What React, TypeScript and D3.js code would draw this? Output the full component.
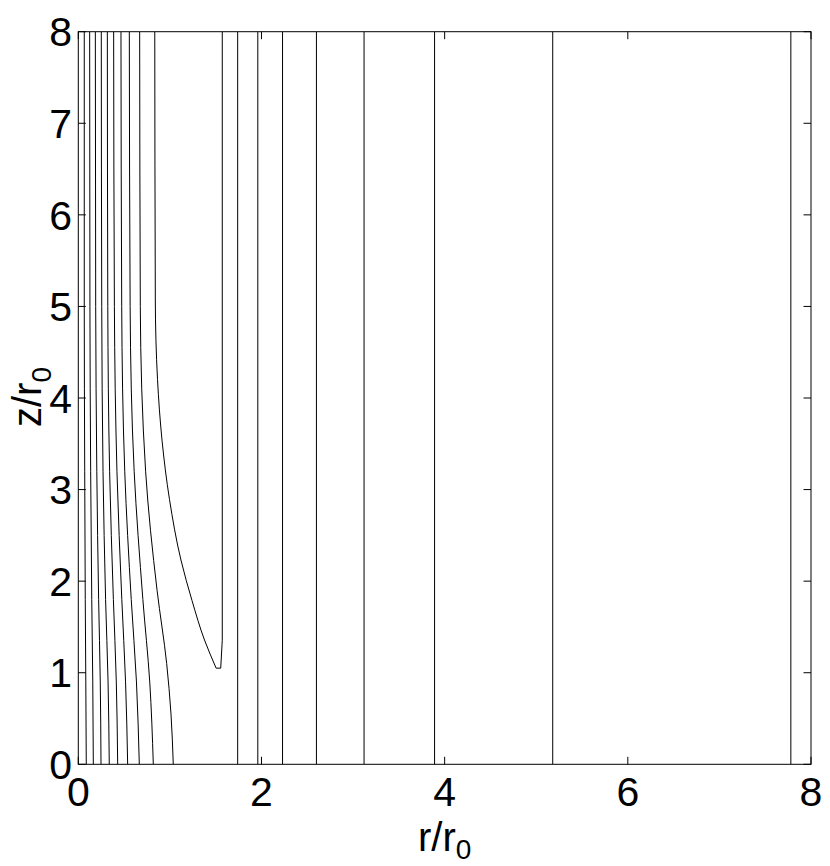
import React, { useEffect } from "react";
import * as d3 from "d3";

// ---- data (r/r0, z/r0) ----
const xTicks = [0, 2, 4, 6, 8];
const yTicks = [0, 1, 2, 3, 4, 5, 6, 7, 8];

const contour1: [number, number][] = [[0.065, 8], [0.065, 5], [0.07, 3.2], [0.076, 1.8], [0.082, 0.9], [0.087, 0]];
const contour2: [number, number][] = [[0.124, 8], [0.127, 5], [0.135, 3.2], [0.147, 1.8], [0.158, 0.9], [0.164, 0]];
const contour3: [number, number][] = [[0.186, 8], [0.19, 5], [0.202, 3.2], [0.222, 1.8], [0.24, 0.9], [0.248, 0]];
const contour4: [number, number][] = [[0.251, 8], [0.256, 5], [0.27, 3.2], [0.298, 1.8], [0.325, 0.9], [0.338, 0]];
const contour5: [number, number][] = [[0.317, 8], [0.322, 5], [0.342, 3.2], [0.383, 1.8], [0.415, 0.9], [0.43, 0]];
const contour6: [number, number][] = [[0.386, 8], [0.394, 5], [0.422, 3.2], [0.475, 1.8], [0.516, 0.9], [0.539, 0]];
const contour7: [number, number][] = [[0.466, 8], [0.474, 5], [0.507, 3.2], [0.578, 1.8], [0.635, 0.9], [0.666, 0]];
const contour8: [number, number][] = [[0.557, 8], [0.566, 5], [0.61, 3.2], [0.705, 1.8], [0.78, 0.9], [0.819, 0]];
const contour9: [number, number][] = [[0.67, 8], [0.677, 5], [0.735, 3.2], [0.86, 1.9], [0.965, 1.1], [1.012, 0.55], [1.037, 0]];

const hookCurve: [number, number][] = [
  [0.835, 8], [0.841, 5.07], [0.865, 4.2], [0.914, 3.54], [0.996, 2.89],
  [1.121, 2.23], [1.241, 1.79], [1.378, 1.357], [1.505, 1.05],
];
const hookRight: [number, number][] = [[1.505, 1.05], [1.555, 1.05], [1.572, 1.355], [1.572, 8]];

const straightLevels = [1.74, 1.96, 2.23, 2.6, 3.12, 3.89, 5.18, 7.78];

const curvedContours = [contour1, contour2, contour3, contour4, contour5, contour6, contour7, contour8, contour9, hookCurve];

const W = 830;
const H = 866;
const left = 78.3;
const right = 811;
const top = 31.7;
const bottom = 764.3;
const FONT = "'Liberation Sans', Arial, Helvetica, sans-serif";

export default function App() {
  useEffect(() => {
    document.body.style.margin = "0";
  }, []);

  const x = d3.scaleLinear().domain([0, 8]).range([left, right]);
  const y = d3.scaleLinear().domain([0, 8]).range([bottom, top]);

  const curveLine = d3
    .line<[number, number]>()
    .x((d) => x(d[0]))
    .y((d) => y(d[1]))
    .curve(d3.curveMonotoneY);
  const straightLine = d3
    .line<[number, number]>()
    .x((d) => x(d[0]))
    .y((d) => y(d[1]));

  const tickLen = 7.5;
  const fs = 41;

  return (
    <svg width={W} height={H} style={{ display: "block", background: "#fff" }} fontFamily={FONT}>
      <rect x={0} y={0} width={W} height={H} fill="#fff" />
      <defs>
        <clipPath id="plotClip">
          <rect x={left} y={top} width={right - left} height={bottom - top} />
        </clipPath>
      </defs>
      <g clipPath="url(#plotClip)" fill="none" stroke="#000" strokeWidth={1}>
        {curvedContours.map((c, i) => (
          <path key={"c" + i} d={curveLine(c) || ""} />
        ))}
        <path d={straightLine(hookRight) || ""} />
        {straightLevels.map((r, i) => (
          <line key={"s" + i} x1={x(r)} x2={x(r)} y1={y(0)} y2={y(8)} />
        ))}
      </g>
      {/* frame */}
      <rect x={left} y={top} width={right - left} height={bottom - top} fill="none" stroke="#000" strokeWidth={1} />
      {/* ticks */}
      <g stroke="#000" strokeWidth={1}>
        {xTicks.map((t) => (
          <g key={"xt" + t}>
            <line x1={x(t)} x2={x(t)} y1={bottom} y2={bottom - tickLen} />
            <line x1={x(t)} x2={x(t)} y1={top} y2={top + tickLen} />
          </g>
        ))}
        {yTicks.map((t) => (
          <g key={"yt" + t}>
            <line x1={left} x2={left + tickLen} y1={y(t)} y2={y(t)} />
            <line x1={right} x2={right - tickLen} y1={y(t)} y2={y(t)} />
          </g>
        ))}
      </g>
      {/* tick labels */}
      <g fontSize={fs} fill="#000">
        {xTicks.map((t) => (
          <text key={"xl" + t} x={x(t)} y={806} textAnchor="middle">
            {t}
          </text>
        ))}
        {yTicks.map((t) => (
          <text key={"yl" + t} x={72} y={y(t) + 14.7} textAnchor="end">
            {t}
          </text>
        ))}
      </g>
      {/* axis labels */}
      <text x={(left + right) / 2} y={851} textAnchor="middle" fontSize={40} fill="#000">
        r/r
        <tspan fontSize={28} dy={8}>0</tspan>
      </text>
      <text transform={`translate(41, 397) rotate(-90)`} textAnchor="middle" fontSize={40} fill="#000">
        z/r
        <tspan fontSize={28} dy={10}>0</tspan>
      </text>
    </svg>
  );
}
